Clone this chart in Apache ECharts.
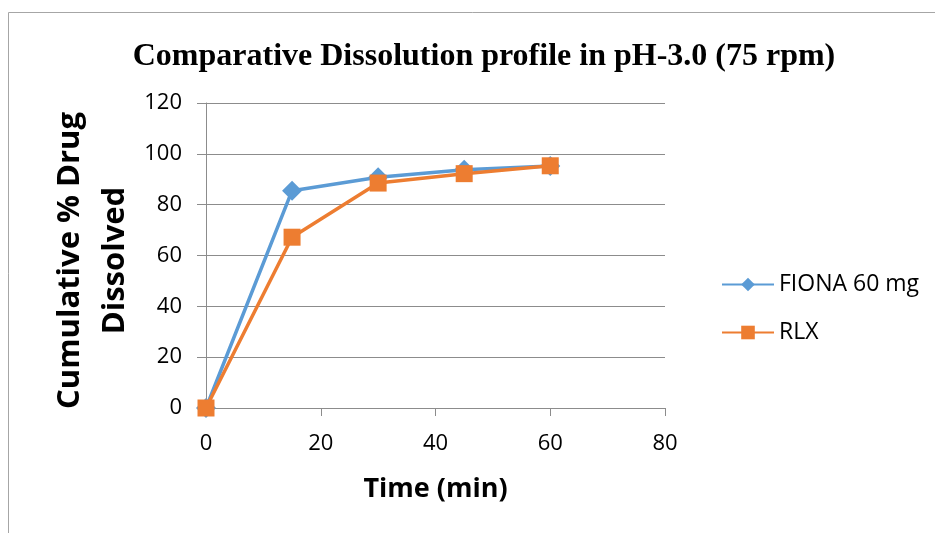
<!DOCTYPE html>
<html><head><meta charset="utf-8">
<script src="https://cdn.jsdelivr.net/npm/echarts@6/dist/echarts.min.js"></script>
<style>html,body{margin:0;padding:0;background:#fff}#c{width:935px;height:533px}</style>
</head><body><div id="c"></div>
<script>
const timeMin = [0, 15, 30, 45, 60];
const fiona = [0, 85.5, 90.8, 93.7, 95.2];
const rlx = [0, 67.2, 88.5, 92.2, 95.3];
const seriesNames = ['FIONA 60 mg', 'RLX'];

const chart = echarts.init(document.getElementById('c'), null, {renderer: 'canvas'});
const sans = 'Open Sans';
chart.setOption({
  backgroundColor: '#fff',
  animation: false,
  graphic: [{type: 'rect', shape: {x: 8.5, y: 12.5, width: 1000, height: 600}, style: {fill: 'none', stroke: '#a6a6a6', lineWidth: 1}}],
  title: {text: 'Comparative Dissolution profile in pH-3.0 (75 rpm)', left: 479, top: 36, textAlign: 'center',
    textStyle: {fontFamily: 'Liberation Serif', fontWeight: 'bold', fontSize: 32, color: '#000'}},
  grid: {left: 206, right: 270, top: 103, bottom: 125, containLabel: false},
  legend: {orient: 'vertical', left: 716, top: 268, itemGap: 25, itemWidth: 52, itemHeight: 17,
    textStyle: {fontFamily: sans, fontSize: 23, color: '#000'}, data: seriesNames},
  xAxis: {type: 'value', min: 0, max: 80, interval: 20,
    name: 'Time (min)', nameLocation: 'middle', nameGap: 68,
    nameTextStyle: {fontFamily: sans, fontWeight: 'bold', fontSize: 27, color: '#000'},
    axisLine: {show: true, lineStyle: {color: '#8c8c8c', width: 1}},
    axisTick: {show: true, length: 8, lineStyle: {color: '#8c8c8c'}},
    axisLabel: {fontFamily: sans, fontSize: 22, color: '#000', margin: 25},
    splitLine: {show: false}},
  yAxis: {type: 'value', min: 0, max: 120, interval: 20,
    name: 'Cumulative % Drug\nDissolved', nameLocation: 'middle', nameGap: 68, nameRotate: 90,
    nameTextStyle: {fontFamily: sans, fontWeight: 'bold', fontSize: 31, color: '#000', lineHeight: 45, padding: [0, 10, 0, 0]},
    axisLine: {show: true, lineStyle: {color: '#8c8c8c', width: 1}},
    axisTick: {show: true, length: 9, lineStyle: {color: '#8c8c8c'}},
    axisLabel: {fontFamily: sans, fontSize: 22, color: '#000', margin: 24},
    splitLine: {show: true, lineStyle: {color: '#8c8c8c', width: 1}}},
  series: [
    {name: seriesNames[0], type: 'line', data: timeMin.map((t, i) => [t, fiona[i]]),
      symbol: 'diamond', symbolSize: 20, showAllSymbol: true,
      itemStyle: {color: '#5b9bd5'}, lineStyle: {color: '#5b9bd5', width: 3.5}, z: 2},
    {name: seriesNames[1], type: 'line', data: timeMin.map((t, i) => [t, rlx[i]]),
      symbol: 'rect', symbolSize: 17, showAllSymbol: true,
      itemStyle: {color: '#ed7d31'}, lineStyle: {color: '#ed7d31', width: 3.5}, z: 3}
  ]
});
</script></body></html>
